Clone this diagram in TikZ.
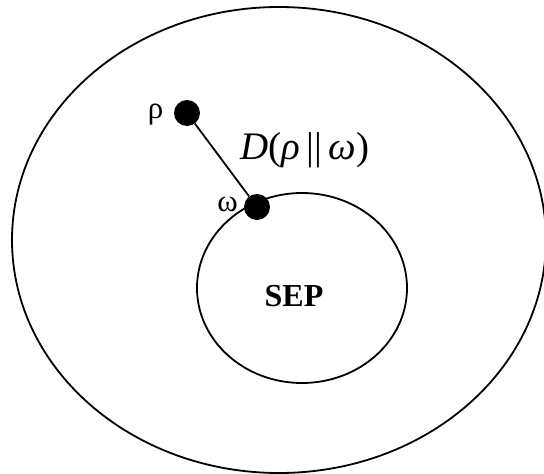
\documentclass[tikz,border=0pt]{standalone}
\usepackage{fontspec}
\setmainfont{Liberation Serif}
\usetikzlibrary{shapes.geometric}
\begin{document}
\begin{tikzpicture}[x=1pt,y=-1pt,
  setline/.style={draw, line width=1.8pt},
  dot/.style={circle, fill=black, minimum size=26pt, inner sep=0pt},
  greeklabel/.style={font=\fontsize{31}{31}\selectfont, inner sep=0pt, anchor=base},
  distlabel/.style={font=\fontsize{39}{39}\selectfont, inner sep=0pt, anchor=base west}]
\useasboundingbox (0,0) rectangle (544,474);
\node[setline, ellipse, minimum width=534pt, minimum height=466pt, inner sep=0pt] (outer) at (279,240) {};
\node[setline, ellipse, minimum width=210pt, minimum height=190pt, inner sep=0pt] (sep) at (302,288) {};
\node[font=\fontsize{32}{32}\selectfont\bfseries, inner sep=0pt, anchor=base] (seplabel) at (294,306) {SEP};
\node[dot] (rho) at (187,113) {};
\node[dot] (omega) at (257,207) {};
\draw[line width=1.8pt] (rho) -- (omega);
\node[greeklabel] (rholabel) at (155.5,118) {ρ};
\node[greeklabel] (omegalabel) at (227.5,211) {ω};
\node[distlabel] (dist) at (240,159) {\textit{D}(\textit{ρ}\,||\,\textit{ω})};
\end{tikzpicture}
\end{document}
